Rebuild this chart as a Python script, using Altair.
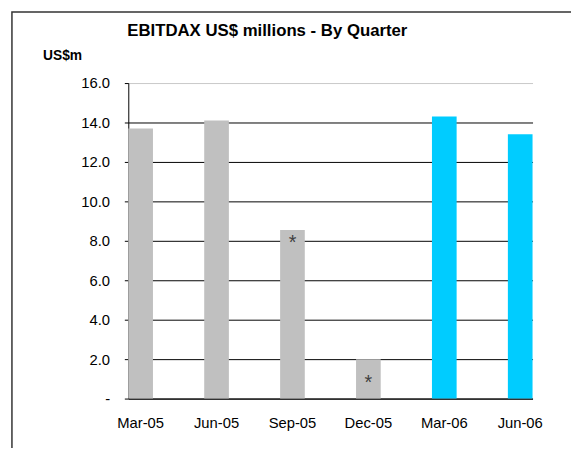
import altair as alt
import pandas as pd

quarters = ["Mar-05", "Jun-05", "Sep-05", "Dec-05", "Mar-06", "Jun-06"]
ebitdax = [13.7, 14.1, 8.55, 2.0, 14.3, 13.4]
period = ["2005", "2005", "2005", "2005", "2006", "2006"]
star_quarters = ["Sep-05", "Dec-05"]
star_y = [8.15, 1.05]
y_ticks = [0, 2, 4, 6, 8, 10, 12, 14, 16]

df = pd.DataFrame({"quarter": quarters, "value": ebitdax, "period": period})
stars = pd.DataFrame({"quarter": star_quarters, "y": star_y, "t": ["*", "*"]})

FONT = "Liberation Sans"

xscale = alt.Scale(domain=quarters, paddingInner=0.675, paddingOuter=0)
yscale = alt.Scale(domain=[0, 16], nice=False)

xaxis = alt.Axis(title=None, labelAngle=0, ticks=False, labelPadding=17,
                 labelFontSize=15, labelFont=FONT, labelColor="black",
                 domainColor="black", domainWidth=1, grid=False)
yaxis = alt.Axis(values=y_ticks, tickCount=9, labelOverlap=False,
                 labelExpr="datum.value == 0 ? '-' : format(datum.value, '.1f')",
                 labelFontSize=15, labelFont=FONT, labelColor="black",
                 labelPadding=15, tickSize=4, tickColor="black",
                 domainColor="black", domainWidth=1,
                 grid=True,
                 gridColor=alt.condition("datum.value == 16", alt.value("#c8c8c8"), alt.value("black")),
                 gridWidth=1, gridOpacity=1,
                 title="US$m", titleAngle=0, titleX=-87, titleY=-24,
                 titleAlign="left", titleBaseline="alphabetic",
                 titleFont=FONT, titleFontSize=14, titleFontWeight="bold",
                 titleColor="black")

bars = alt.Chart(df).mark_bar().encode(
    x=alt.X("quarter:N", scale=xscale, sort=quarters, axis=xaxis),
    y=alt.Y("value:Q", scale=yscale, axis=yaxis),
    color=alt.Color("period:N", scale=alt.Scale(domain=["2005", "2006"], range=["#c0c0c0", "#00ccff"]),
                    legend=None),
)

star_text = alt.Chart(stars).mark_text(font=FONT, fontSize=20, color="#404040", baseline="middle", dy=5).encode(
    x=alt.X("quarter:N", scale=xscale, sort=quarters, bandPosition=0.5, axis=xaxis),
    y=alt.Y("y:Q", scale=yscale, axis=yaxis),
    text="t:N",
)

frame = alt.Chart(pd.DataFrame({"a": [0]})).mark_rect(
    fill=None, stroke="#333333", strokeWidth=1.5, clip=False
).encode(
    x=alt.value(-118), x2=alt.value(600), y=alt.value(-72), y2=alt.value(500)
)

chart = alt.layer(frame, bars, star_text).properties(
    width=410, height=320,
    autosize=alt.AutoSizeParams(type="none"),
    padding={"left": 122, "top": 73, "right": 39, "bottom": 47},
    title=alt.TitleParams("EBITDAX US$ millions - By Quarter", font=FONT, fontSize=17,
                          fontWeight="bold", color="black", anchor="middle", frame="group",
                          dx=-64, offset=-42, baseline="alphabetic"),
    background="white",
).configure_view(stroke=None)

chart.save("out.html", embed_options={"renderer": "svg", "actions": False})
